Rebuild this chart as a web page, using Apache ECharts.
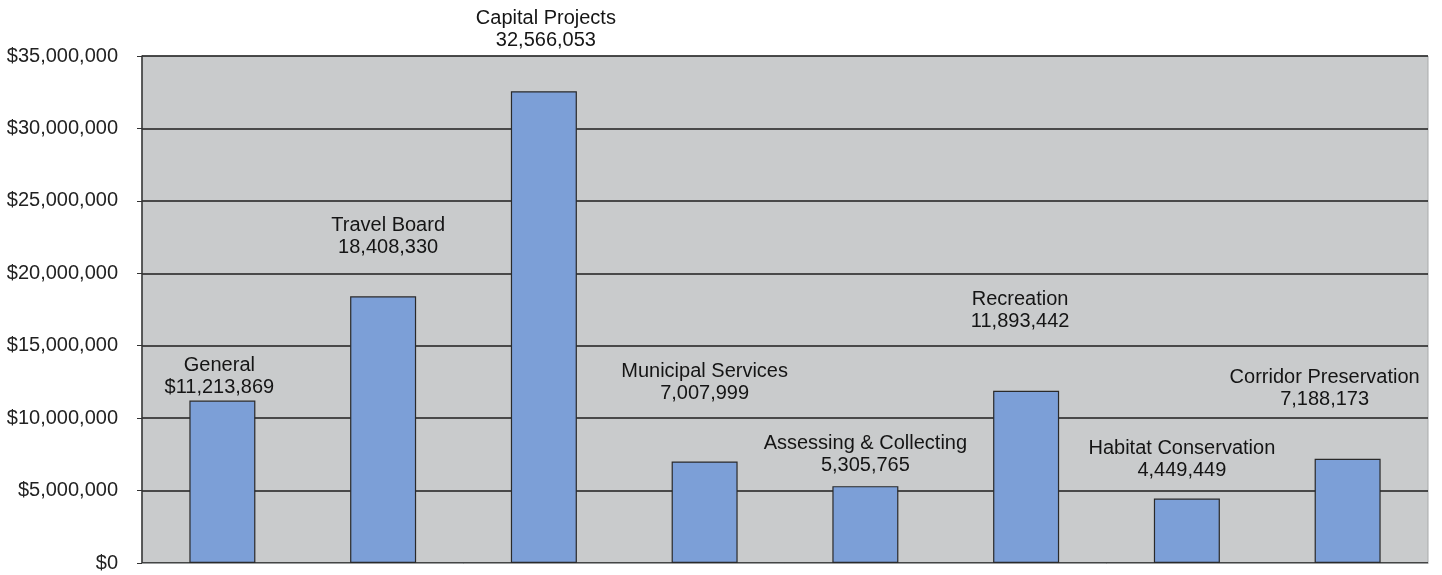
<!DOCTYPE html>
<html>
<head>
<meta charset="utf-8">
<script src="https://cdn.jsdelivr.net/npm/echarts@6/dist/echarts.min.js"></script>
<style>
html,body{margin:0;padding:0;background:#fff;}
#chart{width:1442px;height:575px;}
</style>
</head>
<body>
<div id="chart"></div>
<script>
var categories = ["General","Travel Board","Capital Projects","Municipal Services","Assessing & Collecting","Recreation","Habitat Conservation","Corridor Preservation"];
var values = [11213869, 18408330, 32566053, 7007999, 5305765, 11893442, 4449449, 7188173];
var valueLabels = ["$11,213,869","18,408,330","32,566,053","7,007,999","5,305,765","11,893,442","4,449,449","7,188,173"];
var yTicks = [0, 5000000, 10000000, 15000000, 20000000, 25000000, 30000000, 35000000];

// label placement offsets (style only)
var labelOffsets = [[-3,-2],[5,-38],[2,-40],[0,-57],[0,-10],[-6,-58],[-5,-17],[-23,-48]];

var chart = echarts.init(document.getElementById('chart'));
var data = values.map(function(v, i){
  return {
    value: v,
    label: {
      offset: labelOffsets[i],
      formatter: categories[i] + '\n' + valueLabels[i]
    }
  };
});

chart.setOption({
  animation: false,
  backgroundColor: '#ffffff',
  grid: {left: 142, right: 14, top: 56, bottom: 12, show: true, backgroundColor: '#c9cbcc', borderColor: '#a8aaab', borderWidth: 1},
  xAxis: {
    type: 'category',
    data: categories,
    axisLine: {show: true, lineStyle: {color: '#9a9c9d', width: 1}},
    axisTick: {show: false},
    axisLabel: {show: false}
  },
  yAxis: {
    type: 'value',
    min: yTicks[0],
    max: yTicks[yTicks.length - 1],
    interval: yTicks[1] - yTicks[0],
    axisLine: {show: true, lineStyle: {color: '#333', width: 1.5}},
    axisTick: {show: true, length: 5, lineStyle: {color: '#333'}},
    splitLine: {show: true, lineStyle: {color: '#1e1e1e', width: 1.5}},
    axisLabel: {
      margin: 24,
      color: '#222',
      fontFamily: 'Liberation Sans, Arial, sans-serif',
      fontSize: 20,
      formatter: function(v){ return '$' + v.toLocaleString('en-US'); }
    }
  },
  series: [{
    type: 'bar',
    data: data,
    barWidth: 66,
    itemStyle: {color: '#7c9fd7', borderColor: '#2a2a2a', borderWidth: 1.2},
    label: {
      show: true,
      position: 'top',
      distance: 0,
      color: '#151515',
      fontFamily: 'Liberation Sans, Arial, sans-serif',
      fontSize: 20,
      lineHeight: 22,
      align: 'center'
    }
  }]
});
</script>
</body>
</html>
